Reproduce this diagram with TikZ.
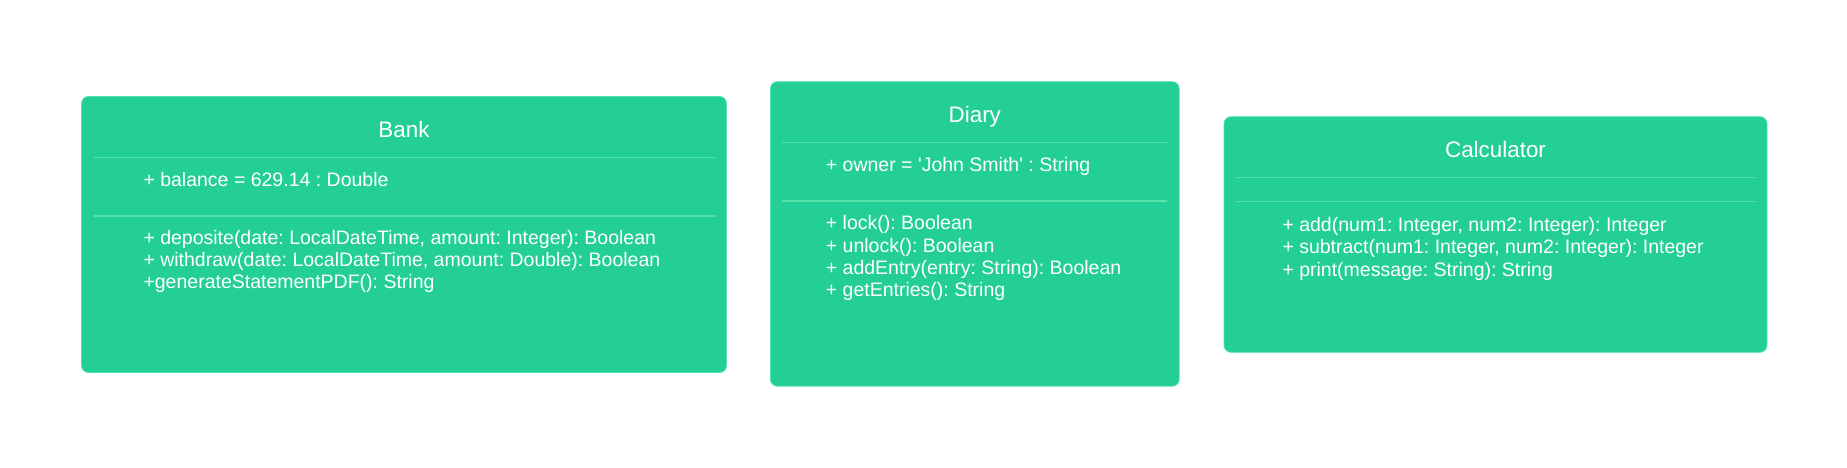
\documentclass[tikz,border=0pt]{standalone}
\usepackage{fontspec}
\setmainfont{Liberation Sans}
\newfontfamily\umlfont{Liberation Sans}
\usepackage{tikz}
\frenchspacing
\definecolor{umlgreen}{RGB}{36,207,151}
\definecolor{rulegreen}{RGB}{86,226,171}
\tikzset{
    classbox/.style={fill=umlgreen, draw=rulegreen, line width=0.8pt, rounded corners=7pt, inner sep=0pt},
    classtitle/.style={anchor=base, inner sep=0pt, text=white, font=\umlfont\fontsize{22.4}{26}\selectfont},
    classrule/.style={draw=rulegreen, line width=1.5pt},
    % multi-line: base is the baseline of the last line
    members/.style={anchor=base west, inner sep=0pt, align=left, text=white, font=\umlfont\fontsize{19.5}{22.2}\selectfont},
}
% box, title and first rule of a class
\newcommand\ClassBox[6]{%
    \node[classbox, minimum width={(#4-#2)*1pt}, minimum height={(#5-#3)*1pt}] (#1) at ({(#2+#4)/2},{(#3+#5)/2}) {};
    \node[classtitle] (#1-title) at ([yshift=-41pt]#1.north) {#6};
    \draw[classrule] ({#2+12},{#3+61}) -- ({#4-12},{#3+61});
}
\newcommand\ClassRule[3]{%
    \draw[classrule] ({#1+12},#3) -- ({#2-12},#3);
}

\begin{document}
\begin{tikzpicture}[x=1pt, y=-1pt]
    \useasboundingbox (0,0) rectangle (1847,468);
    % Bank
    \ClassBox{bank}{81.5}{96.5}{726.5}{372.5}{Bank}
    \node[members] (bank-attr) at (143.3,186) {+ balance = 629.14 : Double};
    \ClassRule{81.5}{726.5}{216}
    \node[members] (bank-ops) at (143.3,288.5) {+ deposite(date: LocalDateTime, amount: Integer): Boolean\\
        + withdraw(date: LocalDateTime, amount: Double): Boolean\\
        +generateStatementPDF(): String};
    % Diary
    \ClassBox{diary}{770.4}{81.7}{1179.2}{386.2}{Diary}
    \node[members] (diary-attr) at (825.7,171.7) {+ owner = 'John Smith' : String};
    \ClassRule{770.4}{1179.2}{201}
    \node[members] (diary-ops) at (825.7,296.5) {+ lock(): Boolean\\
        + unlock(): Boolean\\
        + addEntry(entry: String): Boolean\\
        + getEntries(): String};
    % Calculator
    \ClassBox{calc}{1224}{116.7}{1767}{352.3}{Calculator}
    \ClassRule{1224}{1767}{201.7}
    \node[members] (calc-ops) at (1282.3,276) {+ add(num1: Integer, num2: Integer): Integer\\
        + subtract(num1: Integer, num2: Integer): Integer\\
        + print(message: String): String};
\end{tikzpicture}
\end{document}
